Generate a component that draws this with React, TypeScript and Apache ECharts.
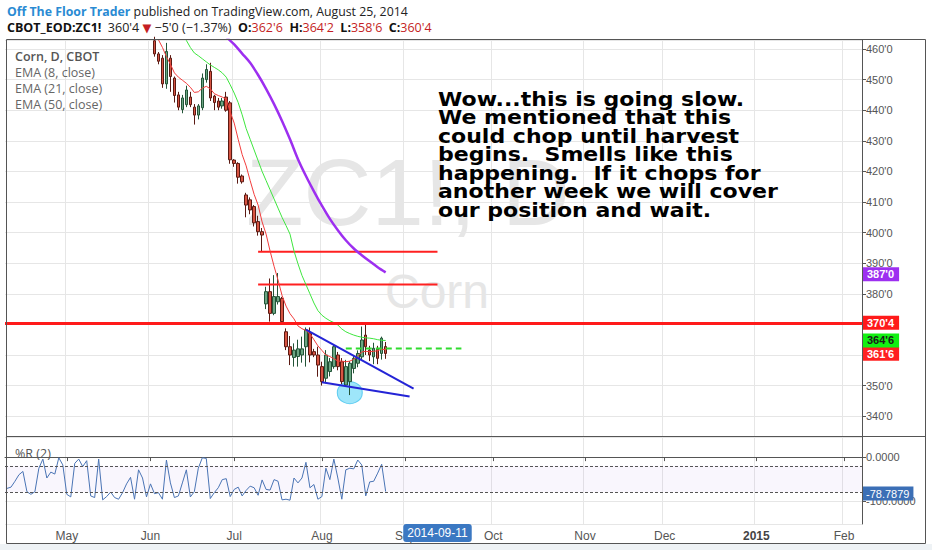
import React, { useEffect, useRef } from 'react';
import * as echarts from 'echarts';

// ---------- axis categories ----------
const FIRST_DATE = '2014-04-09';
const LAST_TRADING_DATE = '2014-08-25';
const EXCHANGE_HOLIDAYS = ['2014-04-18', '2014-05-26', '2014-07-04'];
const BAR_COUNT = 215;
const MONTH_NAMES = ['Jan', 'Feb', 'Mar', 'Apr', 'May', 'Jun', 'Jul', 'Aug', 'Sep', 'Oct', 'Nov', 'Dec'];
const POINTER_DATE = '2014-09-11';

// ---------- daily OHLC (Corn, CBOT) ----------
const CANDLE_START = '2014-06-03';
const opens = [462.7, 458.4, 457, 448.6, 457, 450.5, 445, 440.2, 441.8, 444.3, 441, 438.4, 440.8, 450, 452.7, 444.6, 443, 441.4, 444.3, 442.4, 423.7, 422.6, 418.5, 412.3, 410.7, 408.5, 403.6, 400.3, 376.7, 380.7, 373.6, 377.4, 378.5, 367.6, 362.7, 359.2, 359.5, 360, 362.7, 367.1, 361.1, 360, 356.2, 352.4, 354.6, 356.2, 360, 357.8, 350.2, 351.3, 355.6, 357.3, 359.4, 366.5, 361.6, 359.4, 361.9, 360.5, 362.75];
const closes = [458.4, 456, 448.6, 459.2, 451, 444.8, 441, 444, 446.6, 441.8, 438.4, 441.4, 450.5, 453.3, 444, 442.5, 441, 443, 440, 423.8, 422.6, 418.1, 416.6, 409, 407.4, 403.2, 400.3, 399.2, 380.7, 373.6, 379.1, 379.1, 370.9, 362.7, 360, 361.6, 362, 362, 368.2, 360, 360, 356.7, 351.3, 360, 357.8, 362.7, 356.2, 351.3, 356.2, 357.3, 358.9, 360.5, 364.9, 362.7, 360, 362.2, 358.9, 365.5, 360.5];
const lows = [457.5, 455, 447.3, 447, 446, 442.5, 440, 439, 441, 441, 435.3, 437, 440, 449, 443, 440, 440, 440.5, 439.5, 422.5, 421.5, 416, 416, 405, 406, 402, 399, 393.8, 375, 370.9, 373, 376.5, 370.3, 361.6, 356.7, 356.2, 356.2, 357.5, 356.2, 357.6, 359.3, 352.9, 350, 350.8, 353, 355.5, 355, 350.5, 349.6, 346.9, 354, 356, 358.5, 360, 358, 357, 357, 358.5, 358.75];
const highs = [464, 459, 458, 462, 458, 451, 446, 445, 448, 446, 442, 442, 452, 455, 455.5, 445, 444, 444, 446, 443, 424, 423, 419, 413, 411.5, 409, 405.5, 401.5, 382.3, 385, 386.1, 386.8, 379, 368.7, 366.2, 363.8, 365, 366, 369, 369, 362, 362.7, 357.8, 361.6, 359, 363.5, 361, 359, 358.4, 358, 360, 361.5, 369.3, 369.8, 363, 364, 363, 366, 364.25];

// ---------- moving averages ----------
const EMA8_START = '2014-06-02';
const ema8 = [470, 466.5, 463, 460.5, 457.5, 455, 452.2, 450.8, 449.8, 448.8, 447.5, 445.8, 446, 447.2, 447.8, 447, 445.4, 444.8, 444.3, 443.6, 439.4, 435.8, 430.5, 425.5, 421.8, 417, 412.5, 409, 403.5, 399.5, 394, 389, 384.5, 379.5, 376, 373.5, 371.8, 369.5, 368.6, 368, 367, 365, 363, 361.5, 360, 359.5, 358.8, 358, 358, 357.8, 358, 358.6, 359.6, 361, 361.2, 361.1, 361.2, 361.4, 361.9, 361.75];
const EMA21_START = '2014-06-11';
const ema21 = [467.5, 465, 462.8, 460.5, 458.7, 457.8, 456.8, 455.8, 454.8, 454, 453.2, 452.2, 450.8, 448.3, 445.6, 442.5, 438.5, 434, 430.5, 427, 423.5, 420, 417, 414, 411, 408, 405, 402.3, 399.5, 394, 389.8, 386, 383, 380, 377, 374.5, 373, 372, 371.2, 370.6, 369.8, 368.5, 367.6, 367, 366.5, 366.1, 365.8, 365.6, 365.5, 365.3, 365, 364.8, 364.75];
const ema50Dates = ['2014-06-25', '2014-06-27', '2014-07-01', '2014-07-03', '2014-07-08', '2014-07-10', '2014-07-14', '2014-07-16', '2014-07-18', '2014-07-22', '2014-07-24', '2014-07-28', '2014-07-30', '2014-08-01', '2014-08-05', '2014-08-07', '2014-08-11', '2014-08-13', '2014-08-15', '2014-08-19', '2014-08-21', '2014-08-25'];
const ema50 = [467, 464, 461.5, 458.5, 455.5, 451.5, 447, 442, 436.5, 430.5, 424, 418.5, 413.5, 408.8, 404.5, 400.8, 397.5, 394.8, 392.6, 390.6, 388.7, 387];

// ---------- Williams %R (2) ----------
const WR_START = '2014-04-09';
const williamsR = [-71.6, -68.7, -55.2, -40.3, -32.8, -79.1, -85.1, -79.1, -25.4, -4.5, -47.8, -34.3, -38.8, -1.5, -17.9, -85.1, -91.0, -14.2, -4.5, -21.6, -8.2, -88.8, -92.5, -4.5, -97.8, -90.3, -79.9, -92.5, -96.3, -81.3, -61.2, -46.3, -96.3, -29.1, -47.8, -91.0, -61.2, -83.6, -81.3, -96.3, -6.7, -59.0, -92.5, -88.8, -59.0, -29.1, -91.0, -79.1, -25.4, -1.5, -3.0, -94.8, -81.3, -70.1, -51.5, -49.3, -90.3, -73.9, -68.7, -88.8, -76.1, -66.4, -70.1, -87.3, -52.2, -73.9, -75.4, -51.5, -55.2, -97.8, -96.3, -98.5, -47.8, -59.0, -47.8, -11.9, -70.1, -62.7, -96.3, -90.3, -25.4, -51.5, -4.5, -47.8, -96.3, -29.1, -25.4, -26.9, -6.7, -17.9, -88.8, -56.7, -55.2, -36.6, -16.4, -78.7879];
const WR_LEVELS = [-20, -80];

// ---------- drawings ----------
const resistanceLevels = [
  { from: '2014-07-10', to: '2014-09-11', value: 393.75 },
  { from: '2014-07-10', to: '2014-09-11', value: 383 },
];
const keyLevel = 370.5;
const trendUpper = [['2014-07-28', 368.3], ['2014-09-03', 349.0]];
const trendLower = [['2014-08-01', 351.1], ['2014-09-02', 346.4]];
const dashedLevel = [['2014-08-11', 362.1], ['2014-09-19', 362.1]];
const circledLow = [['2014-08-12', 347.7]];

const ANNOTATION_LINES = [
  'Wow...this is going slow.',
  'We mentioned that this',
  'could chop until harvest',
  'begins.  Smells like this',
  'happening.  If it chops for',
  'another week we will cover',
  'our position and wait.',
];
const LEGEND_LINES = ['EMA (8, close)', 'EMA (21, close)', 'EMA (50, close)'];

// ---------- helpers ----------
function buildDates(): string[] {
  const out: string[] = [];
  const [y, m, d] = FIRST_DATE.split('-').map(Number);
  const cur = new Date(Date.UTC(y, m - 1, d));
  while (out.length < BAR_COUNT) {
    const wd = cur.getUTCDay();
    const s = cur.toISOString().slice(0, 10);
    const holiday = s <= LAST_TRADING_DATE && EXCHANGE_HOLIDAYS.includes(s);
    if (wd !== 0 && wd !== 6 && !holiday) out.push(s);
    cur.setUTCDate(cur.getUTCDate() + 1);
  }
  return out;
}

const fmtPrice = (v: number) => {
  const w = Math.floor(v + 1e-9);
  const e = Math.round((v - w) * 8);
  return `${w}'${e}`;
};

function align(dates: string[], start: string, values: number[]) {
  const s = dates.indexOf(start);
  return dates.map((_, i) => (i >= s && i < s + values.length ? values[i - s] : null));
}

const HIDDEN_LINE = { color: 'rgba(0,0,0,0)', width: 0 };

function buildOption() {
  const dates = buildDates();
  const monthStart = new Set<number>();
  dates.forEach((d, i) => {
    if (i > 0 && d.slice(5, 7) !== dates[i - 1].slice(5, 7)) monthStart.add(i);
  });
  const isMonthStart = (i: number) => monthStart.has(i);
  const monthLabel = (v: string) => {
    const m = Number(v.slice(5, 7));
    return m === 1 ? `{b|${v.slice(0, 4)}}` : MONTH_NAMES[m - 1];
  };

  const cs = dates.indexOf(CANDLE_START);
  const candleData = dates.map((_, i) => {
    const k = i - cs;
    return k >= 0 && k < opens.length ? [opens[k], closes[k], lows[k], highs[k]] : '-';
  });

  const gridLine = { show: true, lineStyle: { color: '#e6e6e6', width: 1 } };
  const axisText = { color: '#555', fontSize: 11, fontFamily: 'Liberation Sans' };
  const priceTag = (value: number, bg: string, fg: string, offsetY = 0) => ({
    yAxis: value,
    lineStyle: HIDDEN_LINE,
    label: {
      show: true, position: 'end', distance: 1, formatter: fmtPrice(value),
      backgroundColor: bg, color: fg, fontSize: 11, fontWeight: 'bold', fontFamily: 'Liberation Sans',
      padding: [2, 5, 1, 4], offset: [0, offsetY],
    },
  });

  const header1 = '{a|Off The Floor Trader}{b| published on TradingView.com, August 25, 2014}';
  const header2 = "{k|CBOT_EOD:ZC1!}{n|  360'4 }{r|▼}{n| −5'0 (−1.37%)  }{k|O:}{v|362'6}{n|  }{k|H:}{v|364'2}{n|  }{k|L:}{v|358'6}{n|  }{k|C:}{v|360'4}";
  const hf = 'Open Sans';

  return {
    animation: false,
    backgroundColor: '#ffffff',
    textStyle: { fontFamily: 'Liberation Sans' },
    grid: [
      { left: 5, right: 70, top: 40, height: 397 },
      { left: 5, right: 70, top: 437, height: 87 },
    ],
    xAxis: [
      {
        type: 'category', gridIndex: 0, data: dates, boundaryGap: true,
        axisLine: { show: false }, axisTick: { show: false }, axisLabel: { show: false },
        splitLine: { ...gridLine, interval: isMonthStart },
      },
      {
        type: 'category', gridIndex: 1, data: dates, boundaryGap: true,
        axisLine: { show: true, lineStyle: { color: '#555' } },
        axisTick: { show: true, interval: isMonthStart, alignWithLabel: true, length: 4, lineStyle: { color: '#555' } },
        axisLabel: {
          show: true, interval: isMonthStart, formatter: monthLabel, color: '#555', fontSize: 12, margin: 6,
          fontFamily: 'Liberation Sans', rich: { b: { fontWeight: 'bold', color: '#444', fontSize: 12, fontFamily: 'Liberation Sans' } },
        },
        splitLine: { ...gridLine, interval: isMonthStart },
        axisPointer: {
          show: true, type: 'line', status: 'show', value: dates.indexOf(POINTER_DATE), snap: false, triggerTooltip: false,
          lineStyle: { opacity: 0 },
          label: {
            show: true, formatter: () => POINTER_DATE, backgroundColor: '#3b78c2', color: '#fff',
            fontSize: 12, fontFamily: 'Liberation Sans', padding: [3, 4, 3, 4], margin: 0,
          },
        },
      },
    ],
    yAxis: [
      {
        type: 'value', gridIndex: 0, position: 'right', min: 333.2, max: 462.94, splitNumber: 13,
        axisLine: { show: true, lineStyle: { color: '#555' } },
        axisTick: { show: true, length: 4, lineStyle: { color: '#555' } },
        axisLabel: { ...axisText, formatter: fmtPrice, margin: 4, showMinLabel: false, showMaxLabel: false },
        splitLine: gridLine,
      },
      {
        type: 'value', gridIndex: 1, position: 'right', min: -153, max: 46, splitNumber: 2,
        axisLine: { show: true, lineStyle: { color: '#555' } },
        axisTick: { show: true, length: 4, lineStyle: { color: '#555' } },
        axisLabel: { ...axisText, formatter: (v: number) => v.toFixed(4), margin: 4, showMinLabel: false, showMaxLabel: false },
        splitLine: gridLine,
      },
    ],
    series: [
      {
        name: 'circle', type: 'scatter', xAxisIndex: 0, yAxisIndex: 0, data: circledLow,
        symbol: 'circle', symbolSize: [25, 22],
        itemStyle: { color: 'rgba(120,220,248,0.9)', borderColor: '#45c3ee', borderWidth: 1 },
      },
      {
        name: 'Corn', type: 'candlestick', xAxisIndex: 0, yAxisIndex: 0, data: candleData, barWidth: 3,
        itemStyle: { color: '#6ba583', color0: '#d75442', borderColor: '#225437', borderColor0: '#5b1a13', borderWidth: 1 },
      },
      ...resistanceLevels.map((r) => ({
        type: 'line', xAxisIndex: 0, yAxisIndex: 0, data: [[r.from, r.value], [r.to, r.value]],
        showSymbol: false, symbol: 'none', lineStyle: { color: '#ff2020', width: 2 },
      })),
      {
        name: 'EMA 8', type: 'line', xAxisIndex: 0, yAxisIndex: 0, data: align(dates, EMA8_START, ema8),
        showSymbol: false, symbol: 'none', lineStyle: { color: '#f23c3c', width: 1 },
      },
      {
        name: 'EMA 21', type: 'line', xAxisIndex: 0, yAxisIndex: 0, data: align(dates, EMA21_START, ema21),
        showSymbol: false, symbol: 'none', lineStyle: { color: '#3ee63e', width: 1 },
      },
      {
        name: 'EMA 50', type: 'line', xAxisIndex: 0, yAxisIndex: 0, data: ema50Dates.map((d, i) => [d, ema50[i]]),
        showSymbol: false, symbol: 'none', smooth: 0.3, lineStyle: { color: '#9d2ff0', width: 2.5 },
      },
      {
        type: 'line', xAxisIndex: 0, yAxisIndex: 0, data: trendUpper, showSymbol: false, symbol: 'none',
        lineStyle: { color: '#2424d6', width: 2 },
      },
      {
        type: 'line', xAxisIndex: 0, yAxisIndex: 0, data: trendLower, showSymbol: false, symbol: 'none',
        lineStyle: { color: '#2424d6', width: 2 },
      },
      {
        type: 'line', xAxisIndex: 0, yAxisIndex: 0, data: dashedLevel, showSymbol: false, symbol: 'none',
        lineStyle: { color: '#2fdc2f', width: 2, type: [6, 4] },
      },
      {
        name: 'tags', type: 'line', xAxisIndex: 0, yAxisIndex: 0, data: [], clip: false,
        markLine: {
          silent: true, symbol: ['none', 'none'],
          data: [
            {
              yAxis: keyLevel, lineStyle: { color: '#ff1a1a', width: 3, type: 'solid' },
              label: {
                show: true, position: 'end', distance: 1, formatter: fmtPrice(keyLevel),
                backgroundColor: '#ff1a1a', color: '#fff', fontSize: 11, fontWeight: 'bold',
                fontFamily: 'Liberation Sans', padding: [2, 5, 1, 4],
              },
            },
            priceTag(ema50[ema50.length - 1], '#9d2ff0', '#fff', 2),
            priceTag(ema8[ema8.length - 1], '#ff2020', '#fff', 4),
            priceTag(ema21[ema21.length - 1], '#12f012', '#1a1a1a', 0),
          ],
        },
      },
      {
        name: '%R (2)', type: 'line', xAxisIndex: 1, yAxisIndex: 1, data: align(dates, WR_START, williamsR),
        showSymbol: false, symbol: 'none', clip: false, lineStyle: { color: '#4a74b5', width: 1 },
        markArea: {
          silent: true, itemStyle: { color: 'rgba(170,130,220,0.07)' },
          data: [[{ yAxis: WR_LEVELS[0] }, { yAxis: WR_LEVELS[1] }]],
        },
        markLine: {
          silent: true, symbol: ['none', 'none'],
          data: [
            ...WR_LEVELS.map((l) => ({ yAxis: l, lineStyle: { color: '#555', width: 1, type: [3, 2] }, label: { show: false } })),
            {
              yAxis: williamsR[williamsR.length - 1], lineStyle: HIDDEN_LINE,
              label: {
                show: true, position: 'end', distance: 1, formatter: williamsR[williamsR.length - 1].toFixed(4),
                backgroundColor: '#3b6fb6', color: '#fff', fontSize: 11, fontFamily: 'Liberation Sans',
                padding: [2, 4, 1, 3], offset: [0, 2],
              },
            },
          ],
        },
      },
    ],
    graphic: {
      elements: [
        { type: 'text', x: 408, y: 192, z: 1, silent: true, style: { text: 'ZC1!, D', fill: '#e6e6e6', font: '94px "Liberation Sans"', align: 'center', verticalAlign: 'middle' } },
        { type: 'text', x: 437, y: 291, z: 1, silent: true, style: { text: 'Corn', fill: '#e6e6e6', font: '48px "Liberation Sans"', align: 'center', verticalAlign: 'middle' } },
        {
          type: 'text', x: 438, y: 90, z: 30, scaleX: 1.16, silent: true,
          style: { text: ANNOTATION_LINES.join('\n'), fill: '#000', font: 'bold 19px "DejaVu Sans"', lineHeight: 18.5, align: 'left', verticalAlign: 'top' },
        },
        { type: 'text', x: 15, y: 56, z: 30, silent: true, style: { text: 'Corn, D, CBOT', fill: '#555', font: `600 12.5px "${hf}"`, align: 'left', verticalAlign: 'middle' } },
        ...LEGEND_LINES.map((t, i) => ({
          type: 'text', x: 15, y: 72 + i * 16, z: 30, silent: true,
          style: { text: t, fill: '#666', font: `12.5px "${hf}"`, align: 'left', verticalAlign: 'middle' },
        })),
        { type: 'text', x: 15, y: 453, z: 30, silent: true, style: { text: '%R (2)', fill: '#555', font: `12.5px "${hf}"`, align: 'left', verticalAlign: 'middle' } },
        {
          type: 'text', x: 7, y: 11, z: 30, silent: true,
          style: {
            text: header1, align: 'left', verticalAlign: 'middle',
            rich: {
              a: { fill: '#2a8bd3', fontWeight: 'bold', fontSize: 12.3, fontFamily: hf },
              b: { fill: '#222', fontSize: 12.3, fontFamily: hf },
            },
          },
        },
        {
          type: 'text', x: 7, y: 27.5, z: 30, silent: true,
          style: {
            text: header2, align: 'left', verticalAlign: 'middle',
            rich: {
              k: { fill: '#111', fontWeight: 'bold', fontSize: 12.5, fontFamily: hf },
              n: { fill: '#222', fontSize: 12.5, fontFamily: hf },
              r: { fill: '#c41e24', fontSize: 11.5, fontFamily: 'DejaVu Sans' },
              v: { fill: '#c41e24', fontSize: 12.5, fontFamily: hf },
            },
          },
        },
        { type: 'rect', z: 40, silent: true, shape: { x: 6.5, y: 39.5, width: 919, height: 504 }, style: { fill: 'none', stroke: '#555', lineWidth: 1 } },
        { type: 'line', z: 40, silent: true, shape: { x1: 7, y1: 436.5, x2: 925, y2: 436.5 }, style: { stroke: '#555', lineWidth: 1 } },
        { type: 'rect', z: 40, silent: true, shape: { x: 0, y: 544, width: 932, height: 6 }, style: { fill: '#eef2f5' } },
      ],
    },
  };
}

export default function App() {
  const ref = useRef<HTMLDivElement>(null);
  useEffect(() => {
    document.body.style.margin = '0';
    const chart = echarts.init(ref.current as HTMLDivElement, undefined, { renderer: 'svg' });
    chart.setOption(buildOption() as any);
    return () => chart.dispose();
  }, []);
  return <div ref={ref} style={{ width: 932, height: 550, background: '#fff' }} />;
}
